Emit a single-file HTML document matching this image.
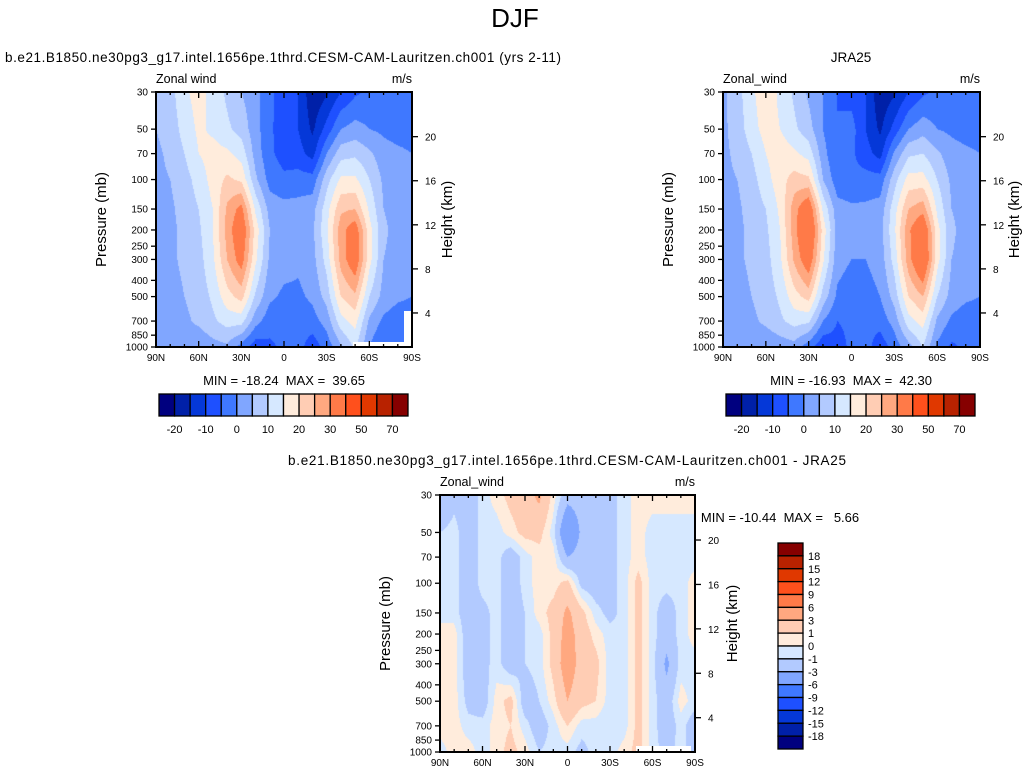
<!DOCTYPE html>
<html><head><meta charset="utf-8">
<style>
body{margin:0;background:#fff;width:1030px;height:778px;overflow:hidden;font-family:"Liberation Sans",sans-serif}
#root{position:relative;width:1030px;height:778px}
canvas{position:absolute}
svg{position:absolute;left:0;top:0}
text{white-space:pre}
</style></head>
<body>
<div id="root">
<canvas id="c1" width="256" height="255" style="left:156px;top:92px"></canvas>
<canvas id="c2" width="257" height="255" style="left:723px;top:92px"></canvas>
<canvas id="c3" width="255" height="257" style="left:440px;top:495px"></canvas>
<svg id="ov" width="1030" height="778"></svg>
</div>
<script>
const lats=[90,80,70,60,50,40,30,20,10,0,-10,-20,-30,-40,-50,-60,-70,-80,-90];
const levs=[30,50,70,100,150,200,300,500,700,1000];
const cesm=[
[6,8,14,17,13,9,5,2,-4,-7,-10,-19,-16,-10,-6,-4,-3,-3,-4],
[5,7,12,16,14,11,8,2,-4,-8,-10,-16,-8,0,2,0,-1,-2,-2],
[4,6,10,15,17,16,13,3,-4,-7,-8,-12,0,8,9,6,2,1,0],
[4,5,8,12,17,21,19,6,-2,-4,-3,-3,8,16,16,10,4,2,1],
[3,4,7,10,15,26,32,14,3,2,2,3,13,24,25,14,5,3,2],
[3,4,6,9,15,27,36,18,5,2,2,4,14,28,34,17,6,3,2],
[3,4,6,8,14,25,33,16,4,2,1,3,12,27,35,17,5,3,2],
[2,3,5,7,11,18,22,9,1,-1,-1,1,7,20,24,10,3,1,0],
[2,3,4,6,9,12,12,2,-3,-3,-3,-2,2,13,17,4,-1,-3,-3],
[3,3,3,1,3,4,-2,-8,-6,-4,-3,-8,-3,4,11,0,-6,-4,-3]];
const jra=[
[4,8,14,18,14,9,4,0,-5,-7,-10,-19,-16,-10,-6,-4,-3,-3,-4],
[4,7,13,17,15,11,7,0,-5,-3,-10,-16,-8,0,3,0,-1,-2,-2],
[4,6,10,15,18,16,13,2,-5,-4,-8,-12,1,9,10,6,2,1,0],
[4,5,8,13,18,22,21,5,-3,-4,-3,-3,8,17,17,10,4,2,1],
[3,4,7,10,16,28,36,14,2,1,1,2,13,25,28,14,5,3,2],
[3,4,6,9,15,28,40,18,3,1,1,3,14,29,37,17,6,3,2],
[3,4,6,8,14,26,35,16,2,0,0,2,12,28,39,17,5,3,2],
[2,3,5,7,11,18,22,8,-1,-3,-2,0,7,20,25,10,3,1,0],
[2,3,4,6,9,12,11,0,-5,-4,-4,-3,2,13,17,4,-1,-3,-3],
[1,2,2,1,2,3,-3,-9,-7,-4,-3,-8,-3,3,10,-1,-6,-4,-3]];
const diff=[
[-3,-1.5,-2,-0.5,0.5,1.5,2,3.5,0.5,-2,-2,-1.5,-1.5,-0.5,0.5,0.5,0.5,0.5,0.5],
[-1,-0.5,-2,-0.5,-0.5,0.5,1.5,1.5,-0.5,-6,-2.5,-1.5,-1.5,-0.5,0.5,-0.5,-0.5,-0.5,-0.5],
[-0.5,-0.5,-2,-0.5,-0.5,-2,-0.5,0.5,0.5,-3,-2,-1.5,-1.5,-0.5,0.5,-0.5,-0.5,-0.5,-0.5],
[-0.5,-0.5,-2,-0.5,-0.5,-2,-0.5,0.5,0.5,1.5,-1.5,-2,-1.5,-0.5,1.5,-0.5,-0.5,-0.5,0.5],
[-0.5,-0.5,-2,-1.5,-0.5,-2,-1,0.5,1.5,3.5,1.5,-0.5,-1.5,-0.5,1.5,-0.5,-2,-0.5,0.5],
[0.5,0.5,-2,-1.5,-0.5,-2,-1,-0.5,1.5,4,2,0.5,-0.5,-0.5,1.5,-0.5,-2,-0.5,0.5],
[0.5,0.5,-2,-1.5,-0.5,-2,-1,-0.5,1.5,4.5,2,1.5,-0.5,-0.5,1.5,-0.5,-3.5,-0.5,-0.5],
[0.5,0.5,-1.5,-2,0.5,1.5,-2,-1,0.5,3,1.5,1,-0.5,-0.5,1.5,-0.5,-2,0.5,-0.5],
[0.5,0.5,-0.5,-0.5,0.5,1,-0.5,-2,-0.5,1,-0.5,-0.5,-1,-0.5,1.5,-0.5,-2,-0.5,-2],
[-0.5,0.5,0.5,-0.5,0.5,1.5,0.5,-1,-0.5,-0.5,-1.5,-0.5,-0.5,0.5,1.5,-0.5,-1.5,-0.5,-2]];
const topLevels=[-20,-15,-10,-5,0,5,10,15,20,25,30,40,50,60,70];
const topLabels=["-20","-10","0","10","20","30","50","70"];
const diffLevels=[-18,-15,-12,-9,-6,-3,-1,0,1,3,6,9,12,15,18];
const colors=["#00007f","#0020a8","#0538d8","#1e50ff","#3f78ff","#80a6ff","#b2caff","#d6e8ff","#ffecdc","#ffcdb4","#ffa880","#ff7a48","#ff501c","#e03800","#b82200","#860000"];
const pTicks=[30,50,70,100,150,200,250,300,400,500,700,850,1000];
const zTicks=[4,8,12,16,20];
const latTickLabels=["90N","60N","30N","0","30S","60S","90S"];
const latTickVals=[90,60,30,0,-30,-60,-90];

const LN=Math.log;
function hexRgb(h){return [parseInt(h.substr(1,2),16),parseInt(h.substr(3,2),16),parseInt(h.substr(5,2),16)];}
const rgb=colors.map(hexRgb);
function field(id,data,levels){
  const c=document.getElementById(id),ctx=c.getContext('2d'),w=c.width,h=c.height;
  const img=ctx.createImageData(w,h);
  const lv=levs.map(LN);
  const step=180/(lats.length-1);
  for(let py=0;py<h;py++){
    const lp=LN(30)+(py+0.5)/h*LN(1000/30);
    let j=0;while(j<lv.length-2&&lp>lv[j+1])j++;
    const fy=Math.max(0,Math.min(1,(lp-lv[j])/(lv[j+1]-lv[j])));
    for(let px=0;px<w;px++){
      const lat=90-180*(px+0.5)/w;
      let i=Math.min(lats.length-2,Math.floor((90-lat)/step));
      const fx=(lats[i]-lat)/step;
      const v=(data[j][i]*(1-fx)+data[j][i+1]*fx)*(1-fy)+(data[j+1][i]*(1-fx)+data[j+1][i+1]*fx)*fy;
      let k=0;while(k<levels.length&&v>=levels[k])k++;
      const col=rgb[k],o=(py*w+px)*4;
      img.data[o]=col[0];img.data[o+1]=col[1];img.data[o+2]=col[2];img.data[o+3]=255;
    }
  }
  ctx.putImageData(img,0,0);
}
field('c1',cesm,topLevels);field('c2',jra,topLevels);field('c3',diff,diffLevels);

const ov=document.getElementById('ov');const NS="http://www.w3.org/2000/svg";
function el(tag,attrs,txt){const e=document.createElementNS(NS,tag);for(const k in attrs)e.setAttribute(k,attrs[k]);if(txt!==undefined)e.textContent=txt;ov.appendChild(e);return e;}
function text(x,y,s,size,anchor,name,extra){const t=el('text',Object.assign({x:x,y:y,'font-size':size,'text-anchor':anchor||'start','font-family':'Liberation Sans, sans-serif',fill:'#000'},extra||{}),s);


return t;}

function axes(L,T,W,H,name,yTitleX,hTitleX){
  const yP=p=>T+H*LN(p/30)/LN(1000/30);
  const xL=lat=>L+W*(90-lat)/180;
  const r=el('rect',{x:L,y:T,width:W,height:H,fill:'none',stroke:'#000','stroke-width':2});
  
  
  for(let lat=90;lat>=-90;lat-=10){
    const maj=lat%30===0,len=maj?6:3,x=xL(lat);
    el('line',{x1:x,y1:T,x2:x,y2:T+len,stroke:'#000','stroke-width':1.3});
    el('line',{x1:x,y1:T+H,x2:x,y2:T+H-len,stroke:'#000','stroke-width':1.3});
  }
  latTickVals.forEach((v,i)=>text(xL(v),T+H+14,latTickLabels[i],10,'middle',name+'-lat-label'));
  pTicks.forEach(p=>{const y=yP(p);el('line',{x1:L-5,y1:y,x2:L,y2:y,stroke:'#000','stroke-width':1.3});
    text(L-8,y+3.5,String(p),10,'end',name+'-pressure-label');});
  text(yTitleX,T+H/2,'Pressure (mb)',15,'middle',name+'-y-axis-title',{transform:'rotate(-90 '+yTitleX+' '+(T+H/2)+')'});
  zTicks.forEach(z=>{const p=1148*Math.exp(-z/6.6),y=yP(p);el('line',{x1:L+W,y1:y,x2:L+W+6,y2:y,stroke:'#000','stroke-width':1.3});
    text(L+W+13,y+4,String(z),10,'start',name+'-height-label');});
  text(hTitleX,T+H/2,'Height (km)',15,'middle',name+'-height-axis-title',{transform:'rotate(-90 '+hTitleX+' '+(T+H/2)+')'});
  text(L,T-9,name==='cesm'?'Zonal wind':'Zonal_wind',12.5,'start',name+'-field-label');
  text(L+W,T-9,'m/s',12.5,'end',name+'-units-label');
}
[[353,342,51,6],[404,311,7,37]].forEach(a=>{const m=el('rect',{x:a[0],y:a[1],width:a[2],height:a[3],fill:'#fff'});});
[[636,746,55,6]].forEach(a=>{const m=el('rect',{x:a[0],y:a[1],width:a[2],height:a[3],fill:'#fff'});});
axes(156,92,256,255,'cesm',106,452);
axes(723,92,257,255,'jra',673,1019);
axes(440,495,255,257,'diff',390,737);

text(515,27,'DJF',26,'middle','main-title');
text(5,62,'b.e21.B1850.ne30pg3_g17.intel.1656pe.1thrd.CESM-CAM-Lauritzen.ch001 (yrs 2-11)',13.5,'start','cesm-subtitle',{textLength:556});
text(851,62,'JRA25',13.5,'middle','jra-subtitle');
text(567,465,'b.e21.B1850.ne30pg3_g17.intel.1656pe.1thrd.CESM-CAM-Lauritzen.ch001 - JRA25',13.5,'middle','diff-subtitle',{textLength:558});
text(284,385,'MIN = -18.24  MAX =  39.65',13,'middle','cesm-min-max');
text(851,385,'MIN = -16.93  MAX =  42.30',13,'middle','jra-min-max');
text(780,522,'MIN = -10.44  MAX =   5.66',13,'middle','diff-min-max');

function hbar(L,T,W,H,name){
  const bw=W/16;
  colors.forEach((c,i)=>{const b=el('rect',{x:L+i*bw,y:T,width:bw,height:H,fill:c,stroke:'#000','stroke-width':1.3});
    
    });
  topLabels.forEach((s,i)=>text(L+(2*i+1)*bw,T+H+17,s,11,'middle',name+'-colorbar-label'));
}
hbar(159,394,249,22,'cesm');
hbar(726,394,249,22,'jra');
(function(){
  const L=778,T=543,W=25,H=206,bh=H/16;
  for(let i=0;i<16;i++){const b=el('rect',{x:L,y:T+i*bh,width:W,height:bh,fill:colors[15-i],stroke:'#000','stroke-width':1.3});
    
    }
  diffLevels.slice().reverse().forEach((v,i)=>text(L+W+5,T+(i+1)*bh+4,String(v),11,'start','diff-colorbar-label'));
})();
</script>
</body></html>
